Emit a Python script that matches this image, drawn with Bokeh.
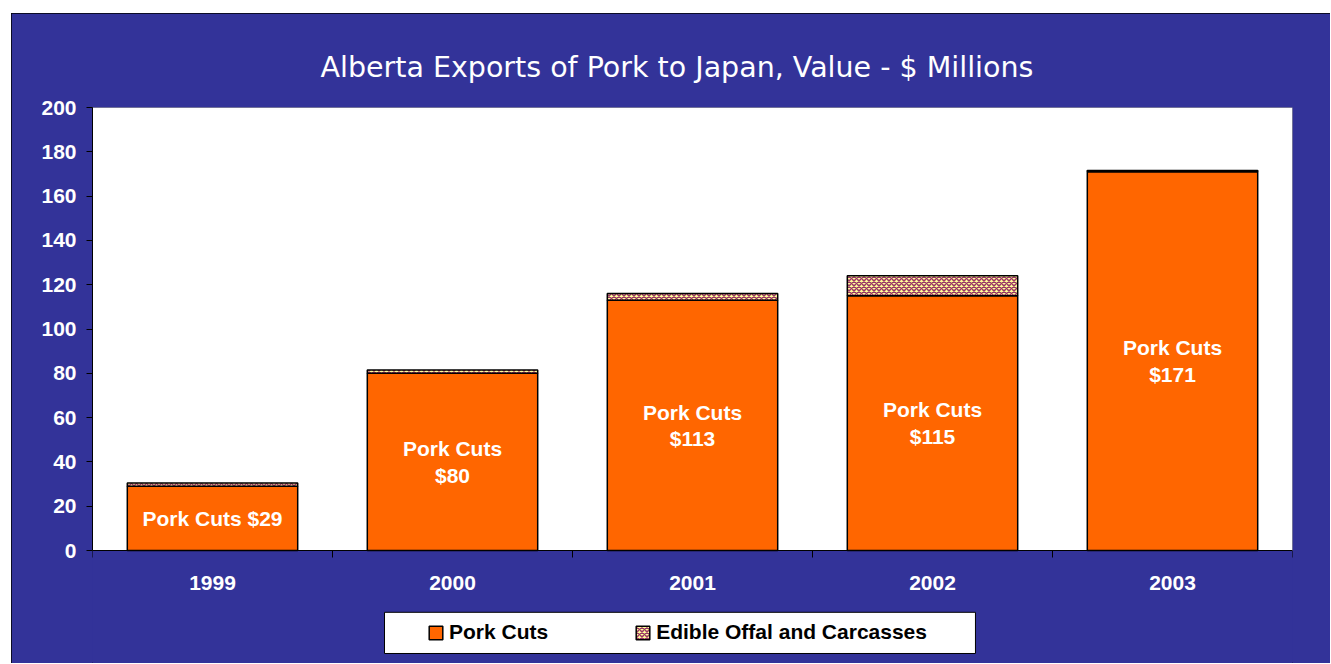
from bokeh.plotting import figure
from bokeh.models import (Range1d, FixedTicker, Legend, LegendItem, ColumnDataSource,
                          BoxAnnotation)
from bokeh.core.properties import value
from bokeh.embed import file_html
from bokeh.resources import INLINE

# ---- data ----
years = ["1999", "2000", "2001", "2002", "2003"]
pork_cuts = [29, 80, 113, 115, 171]
offal = [1.5, 1.5, 3, 9, 0.6]
y_ticks = [0, 20, 40, 60, 80, 100, 120, 140, 160, 180, 200]
title_text = "Alberta Exports of Pork to Japan, Value - $ Millions"
series_names = ["Pork Cuts", "Edible Offal and Carcasses"]

BLUE = "#333399"
ORANGE = "#FF6600"
FONT = "Liberation Sans"

n = len(years)
y_max = 200
plot_h = 443          # pixel height of the white plot area
extra_h = 113         # blue space below the plot area (kept inside the frame)
y_min = -y_max * extra_h / plot_h

xs = [i + 0.5 for i in range(n)]
totals = [a + b for a, b in zip(pork_cuts, offal)]
labels = [(f"Pork Cuts ${v}" if v < 40 else f"Pork Cuts\n${v}") for v in pork_cuts]
mids = [v / 2 for v in pork_cuts]

src = ColumnDataSource(dict(x=xs, pork=pork_cuts, total=totals, label=labels, mid=mids))

p = figure(frame_width=1200, frame_height=plot_h + extra_h, output_backend="svg",
           toolbar_location=None,
           x_range=Range1d(0, n), y_range=Range1d(y_min, y_max),
           min_border_left=81, min_border_right=38, min_border_top=94, min_border_bottom=0,
           margin=(13, 0, 0, 11))
p.styles = {"outline": "1px solid black", "outline-offset": "-1px",
            "background-color": BLUE}

p.border_fill_color = BLUE
p.background_fill_color = BLUE
p.outline_line_color = None
p.xgrid.visible = False
p.ygrid.visible = False

# white plot area
plot_area = BoxAnnotation(left=0, right=n, bottom=0, top=y_max, level="underlay",
                          fill_color="white", fill_alpha=1.0, line_color="#808080",
                          line_width=1, line_alpha=1.0, line_dash="solid")
p.add_layout(plot_area)

# title
p.title.text = title_text
p.title.text_color = "white"
p.title.text_font = "DejaVu Sans"
p.title.text_font_style = "normal"
p.title.text_font_size = "28.5px"
p.title.align = "left"
p.title.offset = 228
p.title.standoff = 48

# bars
r_pork = p.vbar(x="x", top="pork", bottom=0, width=0.71, source=src,
                fill_color=ORANGE, line_color="black", line_width=1.5)
r_offal = p.vbar(x="x", top="total", bottom="pork", width=0.71, source=src,
                 fill_color="#FFFF99", line_color="black", line_width=1.5,
                 hatch_pattern="x", hatch_color="#993366", hatch_scale=5, hatch_weight=1.5)

p.text(x="x", y="mid", text="label", source=src, text_color="white",
       text_font=value(FONT), text_font_style="bold", text_font_size="21px",
       text_align="center", text_baseline="middle", text_line_height=1.15)

# y axis
yax = p.yaxis[0]
yax.ticker = FixedTicker(ticks=y_ticks)
yax.bounds = (0, y_max)
yax.axis_line_color = "black"
yax.major_tick_line_color = "black"
yax.major_tick_out = 6
yax.major_tick_in = 0
yax.minor_tick_line_color = None
yax.major_label_text_color = "white"
yax.major_label_text_font = FONT
yax.major_label_text_font_style = "bold"
yax.major_label_text_font_size = "21px"
yax.major_label_standoff = 10

# x axis, fixed at y = 0
xax = p.xaxis[0]
xax.fixed_location = 0
xax.ticker = FixedTicker(ticks=xs, minor_ticks=list(range(n + 1)))
xax.major_label_overrides = {x: y for x, y in zip(xs, years)}
xax.axis_line_color = "black"
xax.major_tick_out = 0
xax.major_tick_in = 0
xax.minor_tick_out = 7
xax.minor_tick_in = 0
xax.minor_tick_line_color = "black"
xax.major_label_text_color = "white"
xax.major_label_text_font = FONT
xax.major_label_text_font_style = "bold"
xax.major_label_text_font_size = "21px"
xax.major_label_standoff = 18

# legend box + legend
legend_box = BoxAnnotation(left=1.2167, right=3.679, top=-27.9, bottom=-46.5,
                           fill_color="white", fill_alpha=1.0, line_color="black",
                           line_width=1, line_alpha=1.0, line_dash="solid")
p.add_layout(legend_box)

legend = Legend(items=[LegendItem(label=series_names[0], renderers=[r_pork]),
                       LegendItem(label=series_names[1], renderers=[r_offal])],
                orientation="horizontal", location=(335, 19), padding=0, margin=0,
                spacing=86, label_standoff=5, glyph_width=17, glyph_height=17,
                label_height=17, label_text_font=FONT, label_text_font_style="bold",
                label_text_font_size="21px", label_text_color="black",
                border_line_color=None, background_fill_alpha=0)
p.add_layout(legend, "center")

open("out.html", "w").write(file_html(p, INLINE))
